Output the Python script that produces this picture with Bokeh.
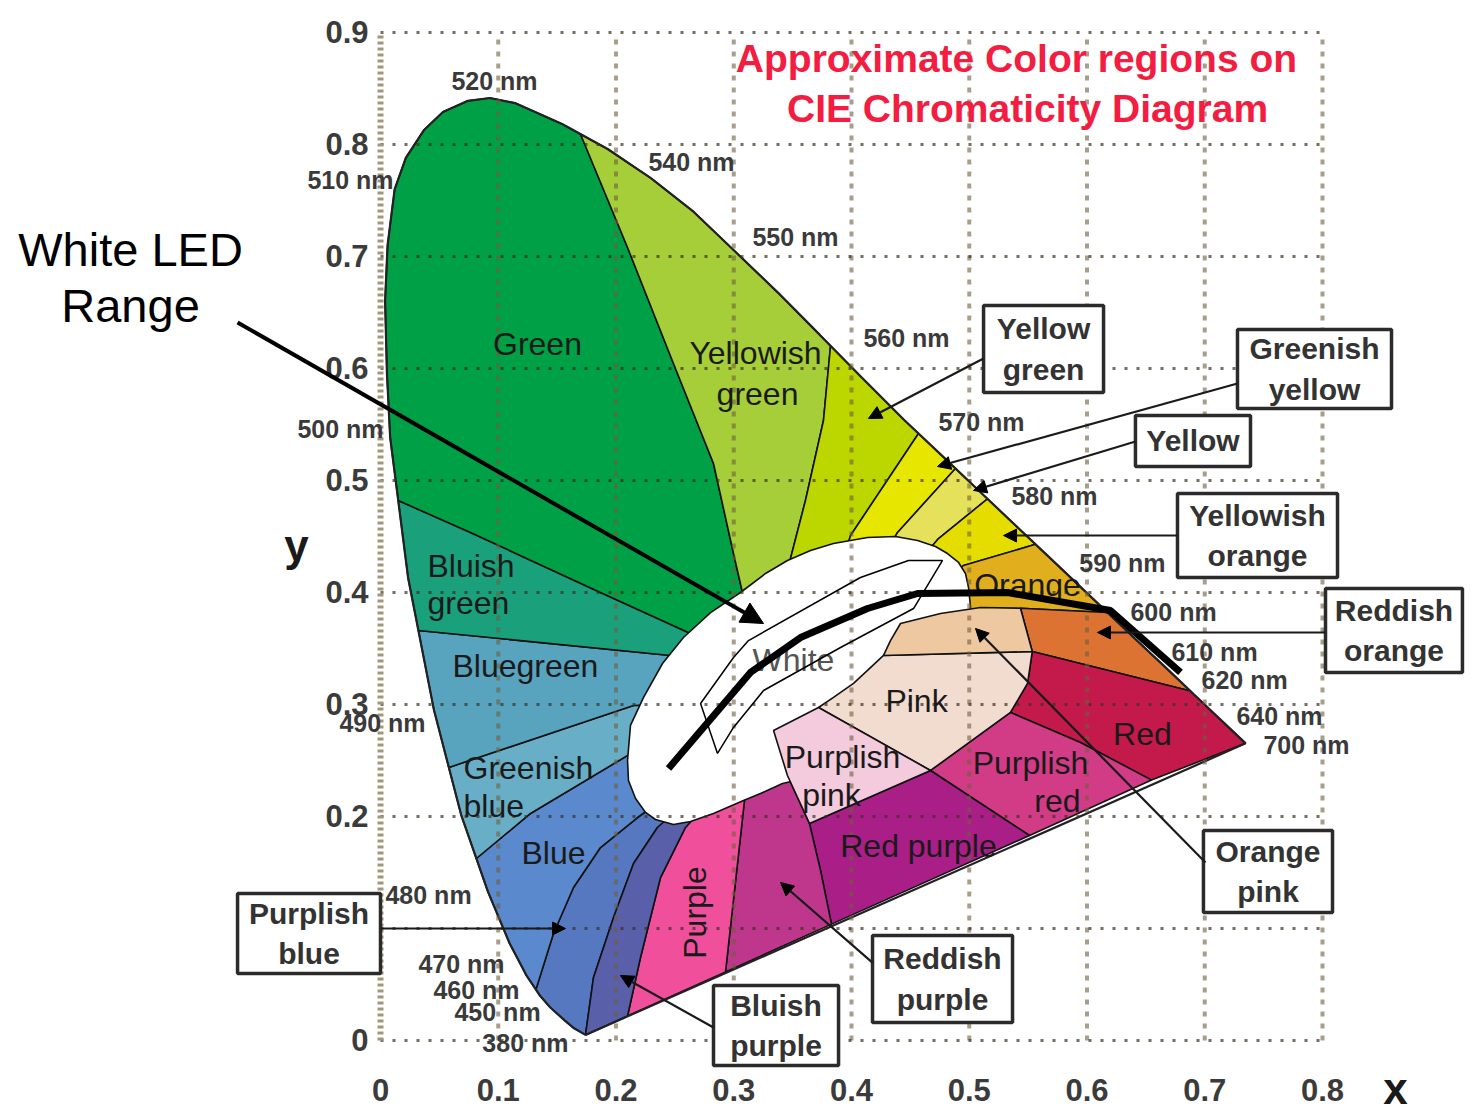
import math
from bokeh.plotting import figure
from bokeh.models import Range1d, Arrow, NormalHead, ColumnDataSource
from bokeh.core.properties import value
from bokeh.embed import file_html
from bokeh.resources import INLINE

FONT = value("Liberation Sans")

# ---------------- spectral locus (x, y chromaticity) ----------------
LOCUS_NM = [380, 440, 450, 460, 465, 470, 475, 480, 485, 490, 495, 500, 502, 505, 507, 510, 512, 515,
            517, 520, 522, 525, 530, 535, 540, 545, 550, 555, 560, 565, 570, 575, 580, 585, 590,
            595, 600, 605, 610, 620, 630, 640, 700]
LOCUS_X = [0.1741, 0.1644, 0.1566, 0.1440, 0.1355, 0.1241, 0.1096, 0.0913, 0.0687, 0.0454,
           0.0235, 0.0082, 0.0055, 0.0039, 0.0060, 0.0120, 0.0215, 0.0370,
           0.0530, 0.0743, 0.0930, 0.1142, 0.1547, 0.1929, 0.2296,
           0.2658, 0.3016, 0.3373, 0.3731, 0.4087, 0.4441, 0.4788, 0.5125, 0.5448, 0.5752,
           0.6029, 0.6270, 0.6482, 0.6658, 0.6915, 0.7079, 0.7190, 0.7347]
LOCUS_Y = [0.0050, 0.0109, 0.0177, 0.0297, 0.0399, 0.0578, 0.0868, 0.1327, 0.2007, 0.2950,
           0.4127, 0.5384, 0.5950, 0.6600, 0.7100, 0.7600, 0.7880, 0.8130,
           0.8290, 0.8390, 0.8415, 0.8370, 0.8180, 0.7960, 0.7700,
           0.7400, 0.7040, 0.6680, 0.6300, 0.5920, 0.5547, 0.5202, 0.4866, 0.4544, 0.4242,
           0.3965, 0.3725, 0.3514, 0.3340, 0.3083, 0.2920, 0.2809, 0.2653]

# ---------------- region boundaries (from locus inwards) ----------------
CENTER = (0.3567, 0.3036)
B_PB_BP = [(0.1741, 0.0050), (0.1809, 0.0563), (0.1979, 0.1098), (0.2149, 0.1580), (0.2352, 0.1902)]
B_B_PB = [(0.1320, 0.0455), (0.1469, 0.0955), (0.1639, 0.1366), (0.1868, 0.1723), (0.2183, 0.1991)]
B_GB_B = [(0.0814, 0.1625), (0.1274, 0.2027), (0.2098, 0.2545)]
B_BG_GB = [(0.0580, 0.2438), (0.2149, 0.2991)]
B_BIG_BG = [(0.0322, 0.3661), (0.2463, 0.3438)]
B_G_BIG = [(0.0151, 0.4821), (0.0764, 0.4536), (0.1868, 0.4000), (0.2633, 0.3634)]
B_G_YIG = [(0.1699, 0.8092), (0.2098, 0.7080), (0.2488, 0.6045), (0.2828, 0.5152),
           (0.2998, 0.4348), (0.3074, 0.4000)]
B_YIG_YG = [(0.3822, 0.6203), (0.3762, 0.5536), (0.3609, 0.4821), (0.3482, 0.4304)]
B_YG_GY = [(0.4569, 0.5420), (0.3992, 0.4509)]
B_GY_Y = [(0.4883, 0.5107), (0.4391, 0.4536)]
B_Y_YO = [(0.5155, 0.4836), (0.4739, 0.4482)]
B_YO_O = [(0.5563, 0.4430), (0.4951, 0.4241)]
B_O_RO = [(0.6174, 0.3822), (0.5435, 0.3860)]
B_RO_R = [(0.6880, 0.3120), (0.5535, 0.3473)]
B_R_PR = [(0.6548, 0.2325), (0.5945, 0.2661), (0.5350, 0.2929)]
RED_INNER = (0.5495, 0.3188)
B_PR_RP = [(0.5512, 0.1830), (0.4671, 0.2411)]
B_RP_RDP = [(0.3830, 0.1039), (0.3737, 0.1518), (0.3643, 0.1938)]
PP_LEFT = (0.3456, 0.2366)
B_RDP_P = [(0.2930, 0.0612), (0.3091, 0.2143)]
B_P_BP = [(0.2098, 0.0219), (0.2208, 0.0741), (0.2378, 0.1455), (0.2590, 0.1902)]

WHITE_X = [0.2098, 0.2123, 0.2234, 0.2395, 0.2573, 0.2803, 0.3057, 0.3270, 0.3456, 0.3652,
           0.3847, 0.4136, 0.4374, 0.4561, 0.4713, 0.4815, 0.4909, 0.4968, 0.4994, 0.5011,
           0.4841, 0.4246, 0.3737, 0.3524, 0.3414, 0.3227, 0.3083, 0.2828, 0.2633, 0.2488,
           0.2335, 0.2251, 0.2166, 0.2106]
WHITE_Y = [0.2500, 0.2813, 0.3063, 0.3366, 0.3598, 0.3821, 0.4000, 0.4170, 0.4286, 0.4375,
           0.4438, 0.4491, 0.4500, 0.4464, 0.4411, 0.4348, 0.4268, 0.4170, 0.4045, 0.3866,
           0.3482, 0.3036, 0.2679, 0.2321, 0.2295, 0.2205, 0.2143, 0.2027, 0.1955, 0.1929,
           0.1973, 0.2036, 0.2161, 0.2321]
PINK = [(0.3720, 0.2973), (0.3847, 0.3063), (0.4017, 0.3188), (0.4136, 0.3304), (0.4272, 0.3438),
        (0.5535, 0.3473), (0.5495, 0.3188), (0.5350, 0.2929), (0.4671, 0.2411)]
ORANGE_PINK = [(0.4272, 0.3438), (0.4331, 0.3571), (0.4416, 0.3723), (0.4756, 0.3813),
               (0.5096, 0.3866), (0.5435, 0.3860), (0.5535, 0.3473)]
PURPLISH_PINK = [(0.3338, 0.2768), (0.3720, 0.2973), (0.4671, 0.2411), (0.3643, 0.1938), PP_LEFT]

# White-LED range
LED_X = [0.2446, 0.3142, 0.3567, 0.4136, 0.4561, 0.5325, 0.6200, 0.6794]
LED_Y = [0.2429, 0.3286, 0.3598, 0.3857, 0.3991, 0.4000, 0.3839, 0.3286]
LED_RANGE_X = [0.2718, 0.2862, 0.2998, 0.3253, 0.3907, 0.4527, 0.4773, 0.4484, 0.4076, 0.3125, 0.2998]
LED_RANGE_Y = [0.3009, 0.2563, 0.2795, 0.3125, 0.3509, 0.3857, 0.4286, 0.4286, 0.4134, 0.3571, 0.3420]

# labels
REG_TEXT = ["Green", "Yellowish", "green", "Bluegreen", "Blue", "Pink", "Purplish", "pink",
            "Purplish", "red", "Red", "Red purple", "Orange"]
REG_X = [0.1333, 0.3185, 0.3202, 0.1231, 0.1469, 0.4552, 0.3924, 0.3830, 0.5520, 0.5749, 0.6471, 0.4569, 0.5495]
REG_Y = [0.6223, 0.6134, 0.5768, 0.3348, 0.1670, 0.3027, 0.2527, 0.2188, 0.2482, 0.2134, 0.2741, 0.1741, 0.4071]
REG_LEFT_TEXT = ["Bluish", "green", "Greenish", "blue"]
REG_LEFT_X = [0.0399, 0.0399, 0.0705, 0.0705]
REG_LEFT_Y = [0.4241, 0.3902, 0.2429, 0.2098]

WL_TEXT = ["520 nm", "540 nm", "550 nm", "560 nm", "570 nm", "580 nm", "590 nm", "600 nm", "610 nm",
           "620 nm", "640 nm", "700 nm", "510 nm", "500 nm", "490 nm", "480 nm", "470 nm", "460 nm",
           "450 nm", "380 nm"]
WL_X = [0.0968, 0.2641, 0.3524, 0.4467, 0.5104, 0.5724, 0.6301, 0.6735, 0.7083, 0.7338, 0.7635,
        0.7864, -0.0255, -0.0340, 0.0017, 0.0408, 0.0688, 0.0815, 0.0994, 0.1231]
WL_Y = [0.8563, 0.7848, 0.7170, 0.6268, 0.5518, 0.4866, 0.4259, 0.3830, 0.3473, 0.3223, 0.2893,
        0.2634, 0.7679, 0.5464, 0.2839, 0.1295, 0.0679, 0.0455, 0.0250, -0.0018]

BOX_X = [0.5631, 0.7932, 0.6900, 0.7448, 0.8607, 0.7537, 0.4773, 0.3359, -0.0607]
BOX_Y = [0.6174, 0.5996, 0.5353, 0.4509, 0.3661, 0.1509, 0.0549, 0.0134, 0.0955]
BOX_W = [0.1019, 0.1308, 0.0977, 0.1359, 0.1163, 0.1096, 0.1189, 0.1062, 0.1214]
BOX_H = [0.0777, 0.0705, 0.0455, 0.0750, 0.0750, 0.0732, 0.0777, 0.0714, 0.0714]
BOX_LINE1 = ["Yellow", "Greenish", "Yellow", "Yellowish", "Reddish", "Orange", "Reddish", "Bluish", "Purplish"]
BOX_LINE2 = ["green", "yellow", "", "orange", "orange", "pink", "purple", "purple", "blue"]

PTR_X0 = [0.5121, 0.7278, 0.6412, 0.6769, 0.8025, 0.7006, 0.4178, 0.2828, 0.0]
PTR_Y0 = [0.6089, 0.5866, 0.5348, 0.4509, 0.3643, 0.1589, 0.0696, 0.0116, 0.1]
PTR_X1 = [0.4144, 0.4730, 0.5036, 0.5291, 0.6089, 0.5053, 0.3397, 0.2038, 0.1571]
PTR_Y1 = [0.5554, 0.5125, 0.4911, 0.4509, 0.3643, 0.3679, 0.1411, 0.0580, 0.1]

X_TICKS = [0.0, 0.1, 0.2, 0.3, 0.4, 0.5, 0.6, 0.7, 0.8]
X_TICK_LABELS = ["0", "0.1", "0.2", "0.3", "0.4", "0.5", "0.6", "0.7", "0.8"]
Y_TICKS = [0.0, 0.2, 0.3, 0.4, 0.5, 0.6, 0.7, 0.8, 0.9]
Y_TICK_LABELS = ["0", "0.2", "0.3", "0.4", "0.5", "0.6", "0.7", "0.8", "0.9"]
GRID_V = [0.1, 0.2, 0.3, 0.4, 0.5, 0.6, 0.7, 0.8]
GRID_H = [0.0, 0.1, 0.2, 0.3, 0.4, 0.5, 0.6, 0.7, 0.8, 0.9]

# ---------------- build polygons ----------------
LOC = {nm: (x, y) for nm, x, y in zip(LOCUS_NM, LOCUS_X, LOCUS_Y)}


def sector(a, lo, hi, b, center=True):
    wls = [w for w in LOCUS_NM if lo <= w <= hi]
    pts = [a[0]] + [LOC[w] for w in wls] + list(b) + ([CENTER] if center else []) + list(reversed(a[1:]))
    return [q[0] for q in pts], [q[1] for q in pts]


def poly(pts):
    return [q[0] for q in pts], [q[1] for q in pts]


regions = [
    ("Purplish blue", "#5578c0", sector(B_PB_BP, 440, 465, B_B_PB)),
    ("Blue", "#5a89cd", sector(B_B_PB, 470, 480, B_GB_B)),
    ("Greenish blue", "#68aec6", sector(B_GB_B, 485, 485, B_BG_GB)),
    ("Bluegreen", "#58a3be", sector(B_BG_GB, 490, 490, B_BIG_BG)),
    ("Bluish green", "#1aa07a", sector(B_BIG_BG, 495, 495, B_G_BIG)),
    ("Green", "#00a046", sector(B_G_BIG, 500, 530, B_G_YIG)),
    ("Yellowish green", "#a6ce39", sector(B_G_YIG, 535, 560, B_YIG_YG)),
    ("Yellow green", "#bcd600", sector(B_YIG_YG, 565, 570, B_YG_GY)),
    ("Greenish yellow", "#e6e600", sector(B_YG_GY, 575, 575, B_GY_Y)),
    ("Yellow", "#e6e15a", sector(B_GY_Y, 580, 580, B_Y_YO)),
    ("Yellowish orange", "#e5dc00", sector(B_Y_YO, 585, 585, B_YO_O)),
    ("Orange", "#e1af1e", sector(B_YO_O, 590, 595, B_O_RO)),
    ("Reddish orange", "#dc7332", sector(B_O_RO, 600, 610, B_RO_R, center=False)),
    ("Red", "#c3194b", sector(B_RO_R, 620, 700, B_R_PR + [RED_INNER], center=False)),
    ("Purplish red", "#d23c87", poly(B_R_PR + list(reversed(B_PR_RP)))),
    ("Red purple", "#aa1e87", poly(B_PR_RP + list(reversed(B_RP_RDP)))),
    ("Reddish purple", "#be378c", poly(B_RP_RDP + [PP_LEFT, CENTER] + list(reversed(B_RDP_P)))),
    ("Purple", "#f0509b", poly(B_RDP_P + [CENTER] + list(reversed(B_P_BP)))),
    ("Bluish purple", "#5a5faa", poly(B_P_BP + [CENTER] + list(reversed(B_PB_BP)))),
]

# ---------------- figure ----------------
W, H = 1468, 1116
XS = -0.32272
YE = 0.92857
p = figure(width=W, height=H, x_range=Range1d(XS, XS + W / 1177.5), y_range=Range1d(YE - H / 1120.0, YE),
           output_backend="svg", toolbar_location=None, x_axis_type=None, y_axis_type=None,
           min_border=0, outline_line_color=None)
p.background_fill_color = "white"
p.border_fill_color = "white"
p.grid.visible = False

p.patches(xs=[r[2][0] for r in regions], ys=[r[2][1] for r in regions],
          fill_color=[r[1] for r in regions], line_color="#111111", line_width=1.6)

p.patch(WHITE_X, WHITE_Y, fill_color="white", line_color="#111111", line_width=1.6)
inner = [("#f2dcd0", PINK), ("#eec8a0", ORANGE_PINK), ("#f3cbdc", PURPLISH_PINK)]
p.patches(xs=[poly(q)[0] for _, q in inner], ys=[poly(q)[1] for _, q in inner],
          fill_color=[c for c, _ in inner], line_color="#111111", line_width=1.6)

# outline of the horseshoe
p.line(LOCUS_X + [LOCUS_X[0]], LOCUS_Y + [LOCUS_Y[0]], line_color="#222222", line_width=2.2)

# grid
p.multi_line(xs=[[g, g] for g in GRID_V], ys=[[0.0, 0.9] for _ in GRID_V],
             line_color="#6e5f3e", line_alpha=0.6, line_width=4, line_dash="5 7")
p.multi_line(xs=[[0.0, 0.8] for _ in GRID_H], ys=[[g, g] for g in GRID_H],
             line_color="#3a3020", line_alpha=0.7, line_width=3, line_dash="3 9")
p.line([0.0, 0.0], [0.0, 0.9], line_color="#a3977a", line_width=6, line_dash="3 3")


def texts(xs, ys, labels, size, color="#1a1a1a", style="normal", align="center", angle=0.0):
    p.text(x=xs, y=ys, text=labels, text_font=FONT, text_font_size=size, text_font_style=style,
           text_color=color, text_align=align, text_baseline="middle", angle=angle)


# region labels
texts(REG_X, REG_Y, REG_TEXT, "32px")
texts(REG_LEFT_X, REG_LEFT_Y, REG_LEFT_TEXT, "32px", align="left")
texts([0.2667], [0.1143], ["Purple"], "32px", angle=math.pi / 2)
texts([0.3507], [0.3393], ["White"], "32px", color="#555555")

# white LED lines
p.patch(LED_RANGE_X, LED_RANGE_Y, fill_alpha=0, line_color="black", line_width=1.5)
p.line(LED_X, LED_Y, line_color="black", line_width=7)

# wavelength labels
texts(WL_X, WL_Y, WL_TEXT, "25px", color="#3a3a3a", style="bold")

# pointers
psrc = ColumnDataSource(dict(x0=PTR_X0, y0=PTR_Y0, x1=PTR_X1, y1=PTR_Y1))
p.add_layout(Arrow(x_start="x0", y_start="y0", x_end="x1", y_end="y1", source=psrc,
                   line_color="#1a1a1a", line_width=2.2,
                   end=NormalHead(size=13, fill_color="black", line_color="black")))

# boxes
p.rect(BOX_X, BOX_Y, BOX_W, BOX_H, fill_color="white", line_color="#2b2b2b", line_width=3.5)
off = 0.018
two = [i for i in range(len(BOX_X)) if BOX_LINE2[i]]
one = [i for i in range(len(BOX_X)) if not BOX_LINE2[i]]
texts([BOX_X[i] for i in two], [BOX_Y[i] + off for i in two], [BOX_LINE1[i] for i in two],
      "30px", color="#333333", style="bold")
texts([BOX_X[i] for i in two], [BOX_Y[i] - off for i in two], [BOX_LINE2[i] for i in two],
      "30px", color="#333333", style="bold")
texts([BOX_X[i] for i in one], [BOX_Y[i] for i in one], [BOX_LINE1[i] for i in one],
      "30px", color="#333333", style="bold")

# title
texts([0.5401, 0.5495], [0.8768, 0.8321], ["Approximate Color regions on", "CIE Chromaticity Diagram"],
      "39px", color="#f21d41", style="bold")

# ticks and axis letters
texts(X_TICKS, [-0.0446] * len(X_TICKS), X_TICK_LABELS, "31px", color="#3b3b3b", style="bold")
texts([-0.0102] * len(Y_TICKS), Y_TICKS, Y_TICK_LABELS, "31px", color="#3b3b3b", style="bold", align="right")
texts([0.862], [-0.0429], ["x"], "44px", color="#1a1a1a", style="bold")
texts([-0.0713], [0.442], ["y"], "44px", color="#1a1a1a", style="bold")

# White LED range annotation
texts([-0.2123, -0.2123], [0.7063, 0.6563], ["White LED", "Range"], "47px", color="black")
p.add_layout(Arrow(x_start=-0.1214, y_start=0.6411, x_end=0.3253, y_end=0.3723,
                   line_color="black", line_width=4,
                   end=NormalHead(size=22, fill_color="black", line_color="black")))

open("out.html", "w").write(file_html(p, INLINE))
